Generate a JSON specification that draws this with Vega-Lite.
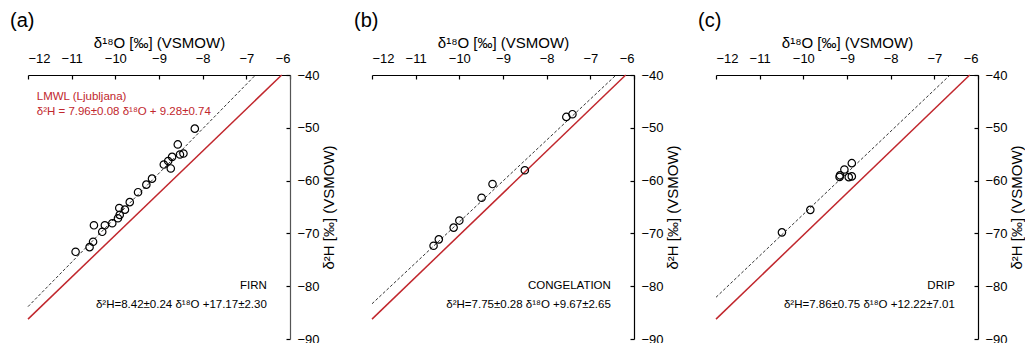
{
  "$schema": "https://vega.github.io/schema/vega-lite/v6.json",
  "padding": {"left": 10, "top": 11, "right": 0, "bottom": 0},
  "background": "white",
  "bounds": "flush",
  "spacing": 82,
  "config": {
    "view": {"stroke": null},
    "font": "Liberation Sans",
    "text": {"font": "Liberation Sans"},
    "axis": {
      "grid": false,
      "domainColor": "black",
      "tickColor": "black",
      "labelColor": "black",
      "titleColor": "black",
      "labelFont": "Liberation Sans",
      "titleFont": "Liberation Sans",
      "labelFontSize": 13,
      "titleFontSize": 15,
      "titleFontWeight": "normal",
      "domainWidth": 1.2,
      "tickWidth": 1.2,
      "tickSize": -4,
      "labelExpr": "replace(datum.label, '-', '−')"
    },
    "axisTop": {"labelPadding": 14, "titlePadding": 2},
    "axisRight": {"labelPadding": 11, "titlePadding": 17, "titleAngle": 270},
    "title": {"font": "Liberation Sans", "fontSize": 20, "fontWeight": "normal", "anchor": "start", "frame": "group", "dx": -18, "color": "black"}
  },
  "datasets": {
    "pts": [
      {"panel": "a", "x": -10.91, "y": -73.48},
      {"panel": "a", "x": -10.59, "y": -72.6},
      {"panel": "a", "x": -10.51, "y": -71.58},
      {"panel": "a", "x": -10.49, "y": -68.46},
      {"panel": "a", "x": -10.30, "y": -69.7},
      {"panel": "a", "x": -10.24, "y": -68.46},
      {"panel": "a", "x": -10.07, "y": -68.08},
      {"panel": "a", "x": -9.94, "y": -67.13},
      {"panel": "a", "x": -9.90, "y": -66.5},
      {"panel": "a", "x": -9.91, "y": -65.2},
      {"panel": "a", "x": -9.78, "y": -65.5},
      {"panel": "a", "x": -9.67, "y": -64.08},
      {"panel": "a", "x": -9.48, "y": -62.2},
      {"panel": "a", "x": -9.29, "y": -60.77},
      {"panel": "a", "x": -9.16, "y": -59.63},
      {"panel": "a", "x": -8.89, "y": -56.96},
      {"panel": "a", "x": -8.79, "y": -56.3},
      {"panel": "a", "x": -8.73, "y": -57.7},
      {"panel": "a", "x": -8.70, "y": -55.5},
      {"panel": "a", "x": -8.57, "y": -53.15},
      {"panel": "a", "x": -8.52, "y": -55.06},
      {"panel": "a", "x": -8.44, "y": -54.87},
      {"panel": "a", "x": -8.18, "y": -50.16},
      {"panel": "b", "x": -10.59, "y": -72.34},
      {"panel": "b", "x": -10.47, "y": -71.13},
      {"panel": "b", "x": -10.13, "y": -68.9},
      {"panel": "b", "x": -10.0, "y": -67.57},
      {"panel": "b", "x": -9.49, "y": -63.25},
      {"panel": "b", "x": -9.24, "y": -60.65},
      {"panel": "b", "x": -8.50, "y": -58.04},
      {"panel": "b", "x": -7.55, "y": -47.94},
      {"panel": "b", "x": -7.41, "y": -47.43},
      {"panel": "c", "x": -10.49, "y": -69.8},
      {"panel": "c", "x": -9.84, "y": -65.54},
      {"panel": "c", "x": -9.16, "y": -59.0},
      {"panel": "c", "x": -9.17, "y": -59.3},
      {"panel": "c", "x": -9.06, "y": -57.9},
      {"panel": "c", "x": -8.96, "y": -59.35},
      {"panel": "c", "x": -8.89, "y": -59.2},
      {"panel": "c", "x": -8.89, "y": -56.7}
    ],
    "lines": [
      {"panel": "a", "kind": "LMWL", "x": -12, "y": -86.24},
      {"panel": "a", "kind": "LMWL", "x": -6.19, "y": -40},
      {"panel": "a", "kind": "fit", "x": -12, "y": -83.87},
      {"panel": "a", "kind": "fit", "x": -6.79, "y": -40},
      {"panel": "b", "kind": "LMWL", "x": -12, "y": -86.24},
      {"panel": "b", "kind": "LMWL", "x": -6.19, "y": -40},
      {"panel": "b", "kind": "fit", "x": -12, "y": -83.33},
      {"panel": "b", "kind": "fit", "x": -6.41, "y": -40},
      {"panel": "c", "kind": "LMWL", "x": -12, "y": -86.24},
      {"panel": "c", "kind": "LMWL", "x": -6.19, "y": -40},
      {"panel": "c", "kind": "fit", "x": -12, "y": -82.1},
      {"panel": "c", "kind": "fit", "x": -6.64, "y": -40}
    ],
    "notes": [
      {"panel": "a", "role": "lmwl1", "t": "LMWL (Ljubljana)"},
      {"panel": "a", "role": "lmwl2", "t": "δ²H = 7.96±0.08 δ¹⁸O + 9.28±0.74"},
      {"panel": "a", "role": "name", "t": "FIRN"},
      {"panel": "a", "role": "eq", "t": "δ²H=8.42±0.24 δ¹⁸O +17.17±2.30"},
      {"panel": "b", "role": "name", "t": "CONGELATION"},
      {"panel": "b", "role": "eq", "t": "δ²H=7.75±0.28 δ¹⁸O +9.67±2.65"},
      {"panel": "c", "role": "name", "t": "DRIP"},
      {"panel": "c", "role": "eq", "t": "δ²H=7.86±0.75 δ¹⁸O +12.22±7.01"}
    ]
  },
  "hconcat": [
    {
      "width": 262, "height": 264,
      "title": {"text": "(a)"},
      "layer": [
        {"data": {"name": "lines"}, "transform": [{"filter": "datum.panel == 'a' && datum.kind == 'LMWL'"}], "mark": {"type": "line", "color": "#c1272d", "strokeWidth": 1.5},
         "encoding": {
           "x": {"field": "x", "type": "quantitative", "scale": {"domain": [-12, -6]}, "axis": {"orient": "top", "values": [-12, -11, -10, -9, -8, -7, -6], "title": "δ¹⁸O [‰] (VSMOW)"}},
           "y": {"field": "y", "type": "quantitative", "scale": {"domain": [-90, -40]}, "axis": {"orient": "right", "values": [-90, -80, -70, -60, -50, -40], "title": "δ²H [‰] (VSMOW)", "domainColor": "#555555"}}}},
        {"data": {"name": "lines"}, "transform": [{"filter": "datum.panel == 'a' && datum.kind == 'fit'"}], "mark": {"type": "line", "color": "black", "strokeWidth": 0.8, "strokeDash": [3, 2]},
         "encoding": {"x": {"field": "x", "type": "quantitative"}, "y": {"field": "y", "type": "quantitative"}}},
        {"data": {"name": "pts"}, "transform": [{"filter": "datum.panel == 'a'"}], "mark": {"type": "point", "shape": "circle", "filled": false, "color": "black", "size": 55, "strokeWidth": 1.2, "opacity": 1},
         "encoding": {"x": {"field": "x", "type": "quantitative"}, "y": {"field": "y", "type": "quantitative"}}},
        {"data": {"name": "notes"}, "transform": [{"filter": "datum.panel == 'a' && datum.role == 'lmwl1'"}], "mark": {"type": "text", "align": "left", "baseline": "middle", "fontSize": 11.5, "color": "#c1272d"},
         "encoding": {"x": {"datum": -11.8, "type": "quantitative"}, "y": {"datum": -44.2, "type": "quantitative"}, "text": {"field": "t", "type": "nominal"}}},
        {"data": {"name": "notes"}, "transform": [{"filter": "datum.panel == 'a' && datum.role == 'lmwl2'"}], "mark": {"type": "text", "align": "left", "baseline": "middle", "fontSize": 11.5, "color": "#c1272d"},
         "encoding": {"x": {"datum": -11.8, "type": "quantitative"}, "y": {"datum": -47.05, "type": "quantitative"}, "text": {"field": "t", "type": "nominal"}}},
        {"data": {"name": "notes"}, "transform": [{"filter": "datum.panel == 'a' && datum.role == 'name'"}], "mark": {"type": "text", "align": "right", "baseline": "middle", "fontSize": 11.5, "color": "black"},
         "encoding": {"x": {"datum": -6.53, "type": "quantitative"}, "y": {"datum": -80.0, "type": "quantitative"}, "text": {"field": "t", "type": "nominal"}}},
        {"data": {"name": "notes"}, "transform": [{"filter": "datum.panel == 'a' && datum.role == 'eq'"}], "mark": {"type": "text", "align": "right", "baseline": "middle", "fontSize": 11.5, "color": "black"},
         "encoding": {"x": {"datum": -6.53, "type": "quantitative"}, "y": {"datum": -83.6, "type": "quantitative"}, "text": {"field": "t", "type": "nominal"}}}
      ]
    },
    {
      "width": 262, "height": 264,
      "title": {"text": "(b)"},
      "layer": [
        {"data": {"name": "lines"}, "transform": [{"filter": "datum.panel == 'b' && datum.kind == 'LMWL'"}], "mark": {"type": "line", "color": "#c1272d", "strokeWidth": 1.5},
         "encoding": {
           "x": {"field": "x", "type": "quantitative", "scale": {"domain": [-12, -6]}, "axis": {"orient": "top", "values": [-12, -11, -10, -9, -8, -7, -6], "title": "δ¹⁸O [‰] (VSMOW)"}},
           "y": {"field": "y", "type": "quantitative", "scale": {"domain": [-90, -40]}, "axis": {"orient": "right", "values": [-90, -80, -70, -60, -50, -40], "title": "δ²H [‰] (VSMOW)"}}}},
        {"data": {"name": "lines"}, "transform": [{"filter": "datum.panel == 'b' && datum.kind == 'fit'"}], "mark": {"type": "line", "color": "black", "strokeWidth": 0.8, "strokeDash": [3, 2]},
         "encoding": {"x": {"field": "x", "type": "quantitative"}, "y": {"field": "y", "type": "quantitative"}}},
        {"data": {"name": "pts"}, "transform": [{"filter": "datum.panel == 'b'"}], "mark": {"type": "point", "shape": "circle", "filled": false, "color": "black", "size": 55, "strokeWidth": 1.2, "opacity": 1},
         "encoding": {"x": {"field": "x", "type": "quantitative"}, "y": {"field": "y", "type": "quantitative"}}},
        {"data": {"name": "notes"}, "transform": [{"filter": "datum.panel == 'b' && datum.role == 'name'"}], "mark": {"type": "text", "align": "right", "baseline": "middle", "fontSize": 11.5, "color": "black"},
         "encoding": {"x": {"datum": -6.53, "type": "quantitative"}, "y": {"datum": -80.0, "type": "quantitative"}, "text": {"field": "t", "type": "nominal"}}},
        {"data": {"name": "notes"}, "transform": [{"filter": "datum.panel == 'b' && datum.role == 'eq'"}], "mark": {"type": "text", "align": "right", "baseline": "middle", "fontSize": 11.5, "color": "black"},
         "encoding": {"x": {"datum": -6.53, "type": "quantitative"}, "y": {"datum": -83.6, "type": "quantitative"}, "text": {"field": "t", "type": "nominal"}}}
      ]
    },
    {
      "width": 262, "height": 264,
      "title": {"text": "(c)"},
      "layer": [
        {"data": {"name": "lines"}, "transform": [{"filter": "datum.panel == 'c' && datum.kind == 'LMWL'"}], "mark": {"type": "line", "color": "#c1272d", "strokeWidth": 1.5},
         "encoding": {
           "x": {"field": "x", "type": "quantitative", "scale": {"domain": [-12, -6]}, "axis": {"orient": "top", "values": [-12, -11, -10, -9, -8, -7, -6], "title": "δ¹⁸O [‰] (VSMOW)"}},
           "y": {"field": "y", "type": "quantitative", "scale": {"domain": [-90, -40]}, "axis": {"orient": "right", "values": [-90, -80, -70, -60, -50, -40], "title": "δ²H [‰] (VSMOW)"}}}},
        {"data": {"name": "lines"}, "transform": [{"filter": "datum.panel == 'c' && datum.kind == 'fit'"}], "mark": {"type": "line", "color": "black", "strokeWidth": 0.8, "strokeDash": [3, 2]},
         "encoding": {"x": {"field": "x", "type": "quantitative"}, "y": {"field": "y", "type": "quantitative"}}},
        {"data": {"name": "pts"}, "transform": [{"filter": "datum.panel == 'c'"}], "mark": {"type": "point", "shape": "circle", "filled": false, "color": "black", "size": 55, "strokeWidth": 1.2, "opacity": 1},
         "encoding": {"x": {"field": "x", "type": "quantitative"}, "y": {"field": "y", "type": "quantitative"}}},
        {"data": {"name": "notes"}, "transform": [{"filter": "datum.panel == 'c' && datum.role == 'name'"}], "mark": {"type": "text", "align": "right", "baseline": "middle", "fontSize": 11.5, "color": "black"},
         "encoding": {"x": {"datum": -6.53, "type": "quantitative"}, "y": {"datum": -80.0, "type": "quantitative"}, "text": {"field": "t", "type": "nominal"}}},
        {"data": {"name": "notes"}, "transform": [{"filter": "datum.panel == 'c' && datum.role == 'eq'"}], "mark": {"type": "text", "align": "right", "baseline": "middle", "fontSize": 11.5, "color": "black"},
         "encoding": {"x": {"datum": -6.53, "type": "quantitative"}, "y": {"datum": -83.6, "type": "quantitative"}, "text": {"field": "t", "type": "nominal"}}}
      ]
    }
  ]
}
